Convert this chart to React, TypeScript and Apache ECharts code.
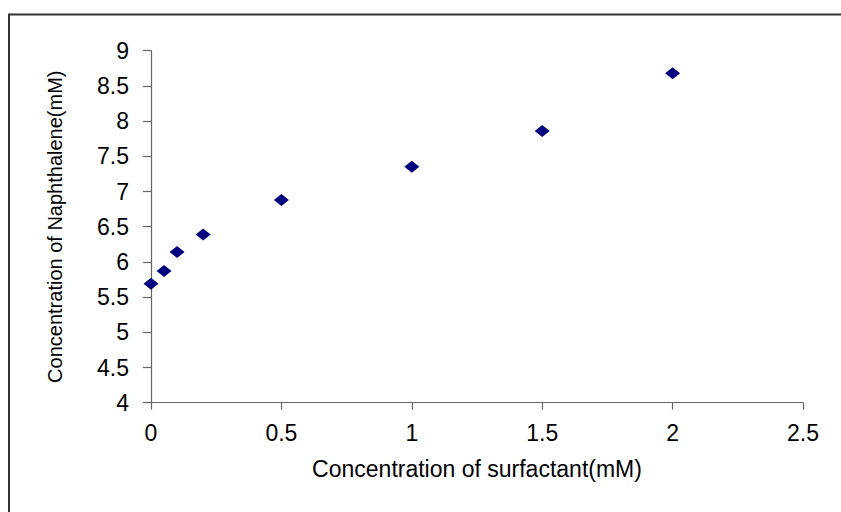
import React, { useEffect, useRef } from "react";
import * as echarts from "echarts";

const surfactantMM = [0, 0.05, 0.1, 0.2, 0.5, 1, 1.5, 2];
const naphthaleneMM = [5.69, 5.87, 6.14, 6.39, 6.88, 7.35, 7.86, 8.68];
const xAxisTitle = "Concentration of surfactant(mM)";
const yAxisTitle = "Concentration of Naphthalene(mM)";

export default function App() {
  const ref = useRef<HTMLDivElement>(null);
  useEffect(() => {
    if (!ref.current) return;
    const chart = echarts.init(ref.current, null, { renderer: "svg" });
    const font = "'Liberation Sans', Arial, sans-serif";
    chart.setOption({
      animation: false,
      backgroundColor: "#ffffff",
      grid: { left: 151, right: 38, top: 50.7, bottom: 109.3, containLabel: false },
      xAxis: {
        type: "value",
        min: 0,
        max: 2.5,
        interval: 0.5,
        name: xAxisTitle,
        nameLocation: "middle",
        nameGap: 55,
        nameTextStyle: { fontFamily: font, fontSize: 23, color: "#000" },
        axisLine: { show: true, onZero: false, lineStyle: { color: "#666", width: 1.2 } },
        axisTick: { show: true, length: 7, inside: false, lineStyle: { color: "#666", width: 1.2 } },
        axisLabel: { fontFamily: font, fontSize: 23, color: "#000", margin: 19 },
        splitLine: { show: false },
      },
      yAxis: {
        type: "value",
        min: 4,
        max: 9,
        interval: 0.5,
        name: yAxisTitle,
        nameLocation: "middle",
        nameGap: 86,
        nameRotate: 90,
        nameTextStyle: { fontFamily: font, fontSize: 20, color: "#000" },
        axisLine: { show: true, onZero: false, lineStyle: { color: "#666", width: 1.2 } },
        axisTick: { show: true, length: 8, inside: false, lineStyle: { color: "#666", width: 1.2 } },
        axisLabel: { fontFamily: font, fontSize: 23, color: "#000", margin: 22 },
        splitLine: { show: false },
      },
      series: [
        {
          type: "scatter",
          data: surfactantMM.map((x, i) => [x, naphthaleneMM[i]]),
          symbol: "diamond",
          symbolSize: [15, 12],
          itemStyle: { color: "#000080", opacity: 1 },
        },
      ],
      graphic: [
        {
          type: "rect",
          silent: true,
          shape: { x: 9, y: 14.5, width: 900, height: 600 },
          style: { fill: "none", stroke: "#333", lineWidth: 2 },
        },
      ],
    });
    return () => chart.dispose();
  }, []);
  return (
    <div
      ref={ref}
      style={{ position: "fixed", left: 0, top: 0, width: 841, height: 512 }}
    />
  );
}
